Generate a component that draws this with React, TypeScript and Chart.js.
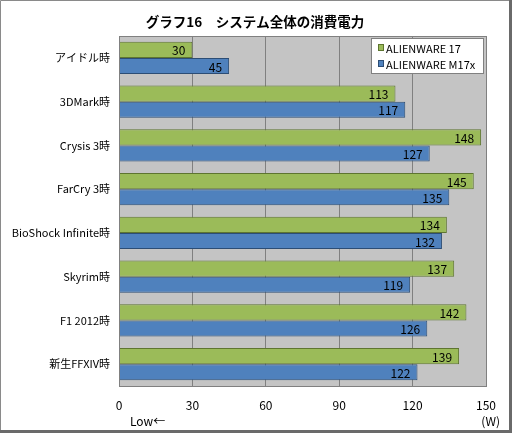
import React, { useEffect, useRef } from "react";
import { Chart, registerables } from "chart.js";

Chart.register(...registerables);

const categories = ["アイドル時", "3DMark時", "Crysis 3時", "FarCry 3時", "BioShock Infinite時", "Skyrim時", "F1 2012時", "新生FFXIV時"];
const alienware17 = [30, 113, 148, 145, 134, 137, 142, 139];
const alienwareM17x = [45, 117, 127, 135, 132, 119, 126, 122];
const seriesNames = ["ALIENWARE 17", "ALIENWARE M17x"];
const xTicks = [0, 30, 60, 90, 120, 150];
const titleText = "グラフ16　システム全体の消費電力";

const FONT = "'Noto Sans CJK JP', 'Noto Sans', sans-serif";
const GREEN = "#9BBB59";
const GREEN_B = "#5E7530";
const BLUE = "#4F81BD";
const BLUE_B = "#2C4D75";

export default function App() {
  const ref = useRef<HTMLCanvasElement>(null);
  useEffect(() => {
    if (!ref.current) return;
    const deco = {
      id: "deco",
      beforeDraw(chart: any) {
        const { ctx, chartArea: a } = chart;
        ctx.save();
        ctx.fillStyle = "#ffffff";
        ctx.fillRect(0, 0, chart.width, chart.height);
        ctx.fillStyle = "#C4C4C4";
        ctx.fillRect(a.left, a.top, a.right - a.left, a.bottom - a.top);
        ctx.restore();
      },
      afterDatasetsDraw(chart: any) {
        const { ctx, chartArea: a } = chart;
        ctx.save();
        // plot border
        ctx.strokeStyle = "#808080";
        ctx.lineWidth = 1;
        ctx.strokeRect(Math.round(a.left) + 0.5, Math.round(a.top) + 0.5, Math.round(a.right - a.left), Math.round(a.bottom - a.top));
        // value labels
        ctx.fillStyle = "#000";
        ctx.font = `12px ${FONT}`;
        ctx.textAlign = "right";
        ctx.textBaseline = "middle";
        chart.data.datasets.forEach((ds: any, i: number) => {
          const meta = chart.getDatasetMeta(i);
          meta.data.forEach((el: any, j: number) => {
            ctx.fillText(String(ds.data[j]), el.x - 7, el.y + 1);
          });
        });
        // title
        ctx.font = `bold 13.5px ${FONT}`;
        ctx.textAlign = "center";
        ctx.fillText(titleText, 255, 22);
        // legend
        ctx.fillStyle = "#fff";
        ctx.fillRect(371.5, 38.5, 112, 35);
        ctx.strokeStyle = "#808080";
        ctx.strokeRect(371.5, 38.5, 112, 35);
        const items = [
          [GREEN, GREEN_B, seriesNames[0], 48],
          [BLUE, BLUE_B, seriesNames[1], 64],
        ] as const;
        ctx.font = `11px ${FONT}`;
        ctx.textAlign = "left";
        items.forEach(([f, b, t, y]) => {
          ctx.fillStyle = f;
          ctx.fillRect(378.5, y - 3.5, 5, 6);
          ctx.strokeStyle = b;
          ctx.strokeRect(378.5, y - 3.5, 5, 6);
          ctx.fillStyle = "#000";
          ctx.fillText(t, 386, y + 1);
        });
        // axis notes
        ctx.font = `12px ${FONT}`;
        ctx.fillText("Low←", 130, 421);
        ctx.textAlign = "right";
        ctx.fillText("(W)", 500, 421);
        // outer frame
        ctx.strokeStyle = "#8a8a8a";
        ctx.lineWidth = 1;
        ctx.beginPath();
        ctx.moveTo(0.5, 431);
        ctx.lineTo(0.5, 0.5);
        ctx.lineTo(509, 0.5);
        ctx.stroke();
        ctx.fillStyle = "#6a6a6a";
        ctx.fillRect(509, 0, 3, 433);
        ctx.fillRect(0, 430, 512, 3);
        ctx.restore();
      },
    };
    const chart = new Chart(ref.current, {
      type: "bar",
      data: {
        labels: categories,
        datasets: [
          { label: seriesNames[0], data: alienware17, backgroundColor: GREEN, borderColor: GREEN_B, borderWidth: 1, categoryPercentage: 0.74, barPercentage: 1 },
          { label: seriesNames[1], data: alienwareM17x, backgroundColor: BLUE, borderColor: BLUE_B, borderWidth: 1, categoryPercentage: 0.74, barPercentage: 1 },
        ],
      },
      options: {
        indexAxis: "y",
        animation: false,
        responsive: false,
        devicePixelRatio: 1,
        layout: { padding: { left: 0, top: 36, right: 26, bottom: 0 } },
        plugins: { legend: { display: false }, title: { display: false }, tooltip: { enabled: false } },
        scales: {
          x: {
            min: 0,
            max: 150,
            afterFit: (s: any) => { s.height = 47; },
            afterBuildTicks: (s: any) => { s.ticks = xTicks.map((v) => ({ value: v })); },
            grid: { color: "#808080", drawTicks: false },
            border: { display: false },
            ticks: { padding: 12, color: "#000", font: { family: FONT, size: 12 } },
          },
          y: {
            afterFit: (s: any) => { s.width = 119; },
            grid: { display: false, drawTicks: false },
            border: { display: false },
            ticks: { padding: 9, color: "#000", font: { family: FONT, size: 11 } },
          },
        },
      },
      plugins: [deco],
    });
    return () => chart.destroy();
  }, []);
  return (
    <div style={{ position: "fixed", left: 0, top: 0, width: 512, height: 433 }}>
      <canvas ref={ref} width={512} height={433} style={{ width: 512, height: 433 }} />
    </div>
  );
}
